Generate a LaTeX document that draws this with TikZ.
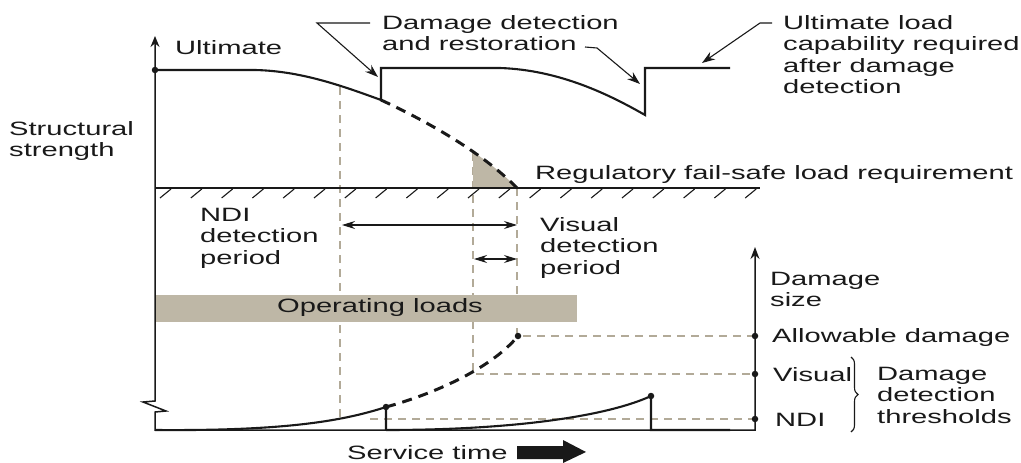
\documentclass[tikz,border=0pt]{standalone}
\usepackage{fontspec}
\setmainfont{Liberation Sans}[FakeStretch=1.51]
\usetikzlibrary{arrows.meta,decorations.pathreplacing}
\definecolor{band}{RGB}{190,183,166}
\definecolor{guide}{RGB}{178,170,152}
\definecolor{ink}{RGB}{25,25,25}
\begin{document}
\begin{tikzpicture}[x=1pt,y=-1pt,
  font=\fontsize{19.3}{21.5}\selectfont,
  txt/.style={inner sep=0pt, anchor=north west, align=left, text=ink},
  axisline/.style={draw=ink, line width=1.5pt, line join=miter},
  strength/.style={draw=ink, line width=2.1pt, line join=miter},
  projected/.style={draw=ink, line width=3pt, dash pattern=on 10pt off 7pt},
  guideline/.style={draw=guide, line width=1.3pt, dash pattern=on 8pt off 6pt},
  leader/.style={draw=ink, line width=1.1pt, -{Stealth[length=13pt,width=9pt]}},
  span/.style={draw=ink, line width=1.1pt, {Stealth[length=13pt,width=8pt]}-{Stealth[length=13pt,width=8pt]}},
  datum/.style={circle, fill=ink, inner sep=0pt, minimum size=6.5pt}
]
\useasboundingbox (0,0) rectangle (1021,463);

% key points of the chart
\coordinate (origin) at (155,430);
\coordinate (ytop) at (155,36);
\coordinate (dend) at (755,430);
\coordinate (dtop) at (755,247);
\coordinate (step1) at (381,100);
\coordinate (step2) at (645,115);
\coordinate (failsafe) at (517,188);
\coordinate (visTop) at (473,153);
\coordinate (ndiTop) at (340,87);

% guide lines (behind everything else)
\draw[guideline] (ndiTop) -- (340,420);
\draw[guideline] (visTop) -- (473,374) -- (755,374);
\draw[guideline] (failsafe) -- (517,336) -- (755,336);
\draw[guideline] (370,419) -- (755,419);

% shaded margin under the projected strength curve
\begin{scope}
  \clip (473,0) rectangle (517,188);
  \fill[band] (step1) .. controls (420,118) and (480,150) .. (failsafe) -- (381,188) -- cycle;
\end{scope}

% operating loads band
\fill[band] (155,295) rectangle (577,322);
\node[txt, anchor=center] (ops) at (380,308) {Operating loads};

% axes with the broken strength axis
\draw[axisline, {Stealth[length=11pt,width=9pt]}-{Stealth[length=12pt,width=9pt]}]
  (ytop) -- (155,401) -- (143,402) -- (166,411) -- (155,412) -- (origin) -- (dend) -- (dtop);

% fail-safe requirement line with hatching
\draw[axisline, line width=1.3pt] (155,188) -- (760,188);
\foreach \i in {0,...,19}
  \draw[ink, line width=1.1pt] ({171+30.8*\i},189) -- ++(-11,9);

% residual strength history
\draw[strength] (155,70) -- (255,70) .. controls (300,71) and (340,85) .. (step1)
  -- (381,68) -- (500,68) .. controls (560,70) and (610,95) .. (step2) -- (645,68) -- (730,68);
\draw[projected] (step1) .. controls (420,118) and (480,150) .. (failsafe);

% damage growth history
\draw[strength] (origin) .. controls (280,431) and (340,422) .. (386,407) -- (386,430);
\draw[projected] (386,407) .. controls (430,395) and (490,370) .. (518,336);
\draw[strength] (386,430) .. controls (520,430) and (610,415) .. (651,396) -- (651,430) -- (730,430);

% points
\node[datum] (ult) at (155,70) {};
\node[datum] (g1) at (386,407) {};
\node[datum] (g2) at (651,396) {};
\node[datum] (gA) at (518,336) {};
\node[datum] (pA) at (755,336) {};
\node[datum] (pV) at (755,374) {};
\node[datum] (pN) at (755,419) {};

% detection periods
\coordinate (ndiL) at (342,225);
\coordinate (ndiR) at (517,225);
\coordinate (visL) at (474,259);
\coordinate (visR) at (517,259);
\draw[span] (ndiL) -- (ndiR);
\draw[span] (visL) -- (visR);

% labels
\node[txt] (ultl) at (175,40) {Ultimate};
\node[txt] (ss) at (9,121) {Structural\\strength};
\node[txt] (ddr) at (382,15) {Damage detection\\and restoration};
\node[txt] (ulc) at (783,15) {Ultimate load\\capability required\\after damage\\detection};
\node[txt] (reg) at (535,165) {Regulatory fail-safe load requirement};
\node[txt] (ndip) at (200,208) {NDI\\detection\\period};
\node[txt] (visp) at (540,217) {Visual\\detection\\period};
\node[txt] (dsz) at (770,272) {Damage\\size};
\node[txt] (allow) at (772,328) {Allowable damage};
\node[txt] (vis) at (773,367) {Visual};
\node[txt] (ndi) at (775,413) {NDI};
\node[txt] (ddt) at (877,367) {Damage\\detection\\thresholds};
\node[txt] (svc) at (347,445) {Service time};

% leaders
\coordinate (l1a) at (370,23);
\coordinate (l1b) at (317,23);
\coordinate (l1c) at (378,77);
\draw[leader] (l1a) -- (l1b) -- (l1c);
\coordinate (l2a) at (585,47);
\coordinate (l2b) at (597,48);
\coordinate (l2c) at (640,84);
\draw[leader] (l2a) -- (l2b) -- (l2c);
\coordinate (l3a) at (772,23);
\coordinate (l3b) at (760,23);
\coordinate (l3c) at (702,63);
\draw[leader] (l3a) -- (l3b) -- (l3c);

% threshold brace
\draw[ink, line width=1.1pt, decorate, decoration={brace, amplitude=7pt}] (851,357) -- (851,432);

% service time arrow
\fill[ink] (517,446) -- (563,446) -- (563,440) -- (586,452) -- (563,463) -- (563,459) -- (517,459) -- cycle;
\end{tikzpicture}
\end{document}
